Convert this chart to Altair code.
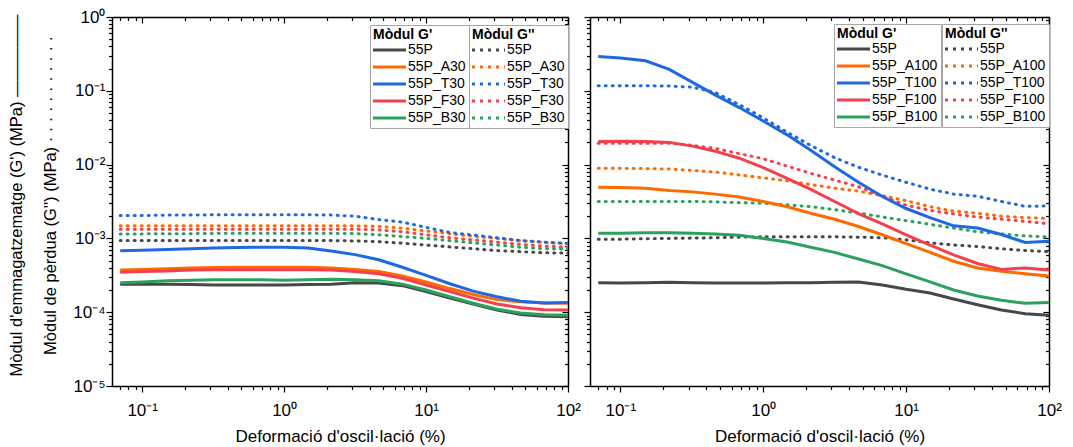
import altair as alt
import pandas as pd

FONT = "Liberation Sans"

strain = [0.07, 0.1, 0.15, 0.22, 0.32, 0.46, 0.68, 1.0, 1.47, 2.15, 3.16, 4.64,
          6.81, 10.0, 14.7, 21.5, 31.6, 46.4, 68.1, 100.0]

left_samples = ["55P", "55P_A30", "55P_T30", "55P_F30", "55P_B30"]
right_samples = ["55P", "55P_A100", "55P_T100", "55P_F100", "55P_B100"]
sample_colors = ["#474747", "#ff6a00", "#1f68e0", "#f2404c", "#2ba25c"]

# ---- left panel, storage modulus G' (MPa)
gp_55P_L = [0.000240, 0.000240, 0.000240, 0.000237, 0.000234, 0.000234, 0.000234, 0.000234, 0.000237, 0.000240,
            0.000251, 0.000248, 0.000229, 0.000191, 0.000155, 0.000129, 0.000107, 0.0000933, 0.0000881, 0.0000871]
gp_A30 = [0.000372, 0.000380, 0.000389, 0.000398, 0.000403, 0.000407, 0.000407, 0.000407, 0.000407, 0.000398,
          0.000380, 0.000355, 0.000309, 0.000257, 0.000209, 0.000174, 0.000148, 0.000138, 0.000133, 0.000132]
gp_T30 = [0.000681, 0.000692, 0.000708, 0.000724, 0.000741, 0.000750, 0.000759, 0.000759, 0.000741, 0.000676,
          0.000603, 0.000513, 0.000407, 0.000316, 0.000243, 0.000193, 0.000162, 0.000141, 0.000133, 0.000135]
gp_F30 = [0.000347, 0.000355, 0.000363, 0.000372, 0.000376, 0.000376, 0.000376, 0.000376, 0.000376, 0.000372,
          0.000355, 0.000331, 0.000288, 0.000234, 0.000191, 0.000155, 0.000129, 0.000115, 0.000108, 0.000107]
gp_B30 = [0.000251, 0.000257, 0.000266, 0.000272, 0.000275, 0.000275, 0.000275, 0.000272, 0.000275, 0.000279,
          0.000275, 0.000266, 0.000240, 0.000200, 0.000162, 0.000132, 0.000110, 0.0000977, 0.0000923, 0.0000912]

# ---- left panel, loss modulus G'' (MPa)
gpp_55P_L = [0.000933, 0.000933, 0.000933, 0.000933, 0.000933, 0.000933, 0.000933, 0.000933, 0.000933, 0.000933,
             0.000923, 0.000902, 0.000861, 0.000813, 0.000767, 0.000724, 0.000684, 0.000661, 0.000638, 0.000631]
gpp_A30 = [0.00148, 0.00148, 0.00148, 0.00148, 0.00148, 0.00148, 0.00148, 0.00148, 0.00148, 0.00148,
           0.00148, 0.00145, 0.00138, 0.00126, 0.00116, 0.00107, 0.00100, 0.000933, 0.000881, 0.000851]
gpp_T30 = [0.00204, 0.00204, 0.00207, 0.00207, 0.00209, 0.00209, 0.00209, 0.00209, 0.00209, 0.00207,
           0.00200, 0.00180, 0.00166, 0.00141, 0.00120, 0.00111, 0.00102, 0.000933, 0.000891, 0.000851]
gpp_F30 = [0.00133, 0.00133, 0.00133, 0.00133, 0.00133, 0.00133, 0.00133, 0.00133, 0.00133, 0.00133,
           0.00133, 0.00130, 0.00123, 0.00112, 0.00102, 0.000955, 0.000891, 0.000832, 0.000785, 0.000759]
gpp_B30 = [0.00115, 0.00115, 0.00116, 0.00116, 0.00117, 0.00117, 0.00117, 0.00117, 0.00117, 0.00117,
           0.00116, 0.00112, 0.00106, 0.00100, 0.000933, 0.000871, 0.000813, 0.000759, 0.000724, 0.000716]

# ---- right panel, storage modulus G' (MPa)
gp_55P_R = [0.000251, 0.000248, 0.000251, 0.000254, 0.000251, 0.000248, 0.000248, 0.000248, 0.000251, 0.000251,
            0.000254, 0.000257, 0.000234, 0.000204, 0.000182, 0.000151, 0.000126, 0.000107, 0.0000955, 0.0000912]
gp_A100 = [0.00492, 0.00490, 0.00479, 0.00447, 0.00427, 0.00398, 0.00363, 0.00316, 0.00269, 0.00219,
           0.00182, 0.00145, 0.00112, 0.000851, 0.000646, 0.000490, 0.000398, 0.000359, 0.000331, 0.000309]
gp_T100 = [0.292, 0.278, 0.255, 0.195, 0.130, 0.088, 0.0593, 0.0389, 0.0253, 0.0156,
           0.00933, 0.00575, 0.00369, 0.00254, 0.00191, 0.00148, 0.00138, 0.00113, 0.000879, 0.000912]
gp_F100 = [0.0205, 0.0208, 0.0206, 0.0200, 0.0178, 0.0152, 0.0122, 0.00912, 0.00653, 0.00461,
           0.00316, 0.00217, 0.00157, 0.00112, 0.000813, 0.000598, 0.000457, 0.000380, 0.000398, 0.000372]
gp_B100 = [0.00117, 0.00117, 0.00119, 0.00119, 0.00117, 0.00115, 0.00110, 0.00100, 0.000891, 0.000759,
           0.000646, 0.000525, 0.000427, 0.000331, 0.000257, 0.000200, 0.000166, 0.000145, 0.000132, 0.000135]

# ---- right panel, loss modulus G'' (MPa)
gpp_55P_R = [0.000977, 0.000977, 0.000989, 0.00100, 0.00101, 0.00102, 0.00104, 0.00105, 0.00105, 0.00105,
             0.00105, 0.00104, 0.00102, 0.000955, 0.000871, 0.000813, 0.000776, 0.000724, 0.000684, 0.000661]
gpp_A100 = [0.00891, 0.00891, 0.00881, 0.00871, 0.00832, 0.00794, 0.00724, 0.00661, 0.00603, 0.00537,
            0.00479, 0.00437, 0.00380, 0.00324, 0.00269, 0.00234, 0.00219, 0.00200, 0.00191, 0.00186]
gpp_T100 = [0.117, 0.117, 0.117, 0.116, 0.112, 0.095, 0.0650, 0.0430, 0.0275, 0.0182,
            0.0124, 0.00920, 0.00720, 0.00575, 0.00465, 0.00398, 0.00372, 0.00316, 0.00272, 0.00275]
gpp_F100 = [0.0195, 0.0195, 0.0195, 0.0195, 0.0182, 0.0166, 0.0141, 0.0120, 0.00955, 0.00759,
            0.00617, 0.00501, 0.00372, 0.00282, 0.00240, 0.00214, 0.00195, 0.00182, 0.00170, 0.00158]
gpp_B100 = [0.00316, 0.00316, 0.00316, 0.00316, 0.00316, 0.00313, 0.00305, 0.00299, 0.00285, 0.00269,
            0.00245, 0.00221, 0.00195, 0.00174, 0.00155, 0.00138, 0.00123, 0.00115, 0.00108, 0.00105]

x_title = "Deformació d'oscil·lació (%)"
y_title = ["Mòdul d'emmagatzematge (G') (MPa) —————",
           "Mòdul de pèrdua (G'') (MPa)" + " ·" * 11]


def long_df(samples, series):
    rows = []
    for name, vals in zip(samples, series):
        for x, v in zip(strain, vals):
            rows.append({"strain": x, "sample": name, "value": v})
    return pd.DataFrame(rows)


LOGV = "log(datum.value)/LN10"
EXP = f"round({LOGV})"
MAJOR = f"abs({LOGV} - {EXP}) < 0.001"
SUP = {-5: "⁻⁵", -4: "⁻⁴", -3: "⁻³", -2: "⁻²", -1: "⁻¹", 0: "⁰", 1: "¹", 2: "²"}


def label_expr(exps):
    inner = "''"
    for e in exps:
        inner = f"{EXP} == {e} ? '10{SUP[e]}' : ({inner})"
    return f"{MAJOR} ? ({inner}) : ''"


tick_out = alt.ExprRef(expr=f"{MAJOR} ? 6 : 3.5")
tick_in = alt.ExprRef(expr=f"{MAJOR} ? -6 : -3.5")

common = dict(domainColor="black", domainWidth=1.5, tickColor="black", tickWidth=1.2,
              grid=False, tickCount=20)

XDOM = [0.0613, 100]
YDOM = [1e-5, 1]
HEIGHT = 369


def legend(title, x, y, dash=None):
    kw = dict(orient="none", legendX=x, legendY=y, direction="vertical", title=title,
              titleFont=FONT, titleFontSize=14, titleFontWeight="bold", titleColor="black",
              titleAnchor="start", titlePadding=1, labelFont=FONT, labelFontSize=14,
              labelColor="black", labelOffset=21, symbolType="M-1.4,0H5.2", symbolSize=100,
              symbolStrokeWidth=3, padding=3, rowPadding=3, strokeColor="#a6a6a6",
              fillColor="white")
    if dash:
        kw["symbolDash"] = dash
    return alt.Legend(**kw)


def panel(samples, gp_series, gpp_series, width, first, lx1, lx2, ly):
    xsc = alt.Scale(type="log", domain=XDOM, nice=False)
    ysc = alt.Scale(type="log", domain=YDOM, nice=False)
    x_bottom = alt.Axis(orient="bottom", labelExpr=label_expr([-1, 0, 1, 2]), tickSize=tick_out,
                        labelFont=FONT, labelFontSize=17, labelColor="black", labelPadding=10,
                        labelOverlap=False, labelFlush=False, title=x_title, titleFont=FONT,
                        titleFontSize=17, titleFontWeight="normal", titleColor="black",
                        titlePadding=10, **common)
    x_top = alt.Axis(orient="top", labels=False, title=None, tickSize=tick_in, **common)
    if first:
        y_left = alt.Axis(orient="left", labelExpr=label_expr([-5, -4, -3, -2, -1, 0]),
                          tickSize=tick_out, labelFont=FONT, labelFontSize=17, labelColor="black",
                          labelPadding=1, labelOverlap=False, labelFlush=False,
                          title=y_title, titleFont=FONT, titleFontSize=16.5, titleFontWeight="normal",
                          titleColor="black", titleX=-104, titleY=178, titleAngle=270,
                          titleAlign="center", titleBaseline="top", titleLineHeight=34, **common)
    else:
        y_left = alt.Axis(orient="left", labels=False, title=None, tickSize=tick_out, **common)
    y_right = alt.Axis(orient="right", labels=False, title=None, tickSize=tick_in, **common)

    dotted = alt.Chart(long_df(samples, gpp_series)).mark_line(
        strokeWidth=3, strokeDash=[1, 6], strokeCap="round", clip=True
    ).encode(
        x=alt.X("strain:Q", scale=xsc, axis=x_bottom),
        y=alt.Y("value:Q", scale=ysc, axis=y_left),
        color=alt.Color("sample:N", scale=alt.Scale(domain=samples, range=sample_colors),
                        legend=legend("Mòdul G''", lx2, ly, [3, 5])),
    )
    solid = alt.Chart(long_df(samples, gp_series)).mark_line(
        strokeWidth=3, clip=True
    ).encode(
        x=alt.X("strain:Q", scale=xsc, axis=x_top),
        y=alt.Y("value:Q", scale=ysc, axis=y_right),
        color=alt.Color("sample:N", scale=alt.Scale(domain=samples, range=sample_colors),
                        legend=legend("Mòdul G'", lx1, ly)),
    )
    return alt.layer(dotted, solid).resolve_scale(color="independent").properties(
        width=width, height=HEIGHT)


left = panel(left_samples, [gp_55P_L, gp_A30, gp_T30, gp_F30, gp_B30],
             [gpp_55P_L, gpp_A30, gpp_T30, gpp_F30, gpp_B30], 456, True, 258, 357, 8)
right = panel(right_samples, [gp_55P_R, gp_A100, gp_T100, gp_F100, gp_B100],
              [gpp_55P_R, gpp_A100, gpp_T100, gpp_F100, gpp_B100], 459, False, 244, 352, 7)

chart = alt.hconcat(left, right, spacing=22, bounds="flush").resolve_scale(
    color="independent"
).properties(
    padding={"left": 7, "top": 7, "right": 0, "bottom": 0}, background="white"
).configure_view(stroke=None).configure(font=FONT)

chart.save("out.html", embed_options={"renderer": "svg", "actions": False})
